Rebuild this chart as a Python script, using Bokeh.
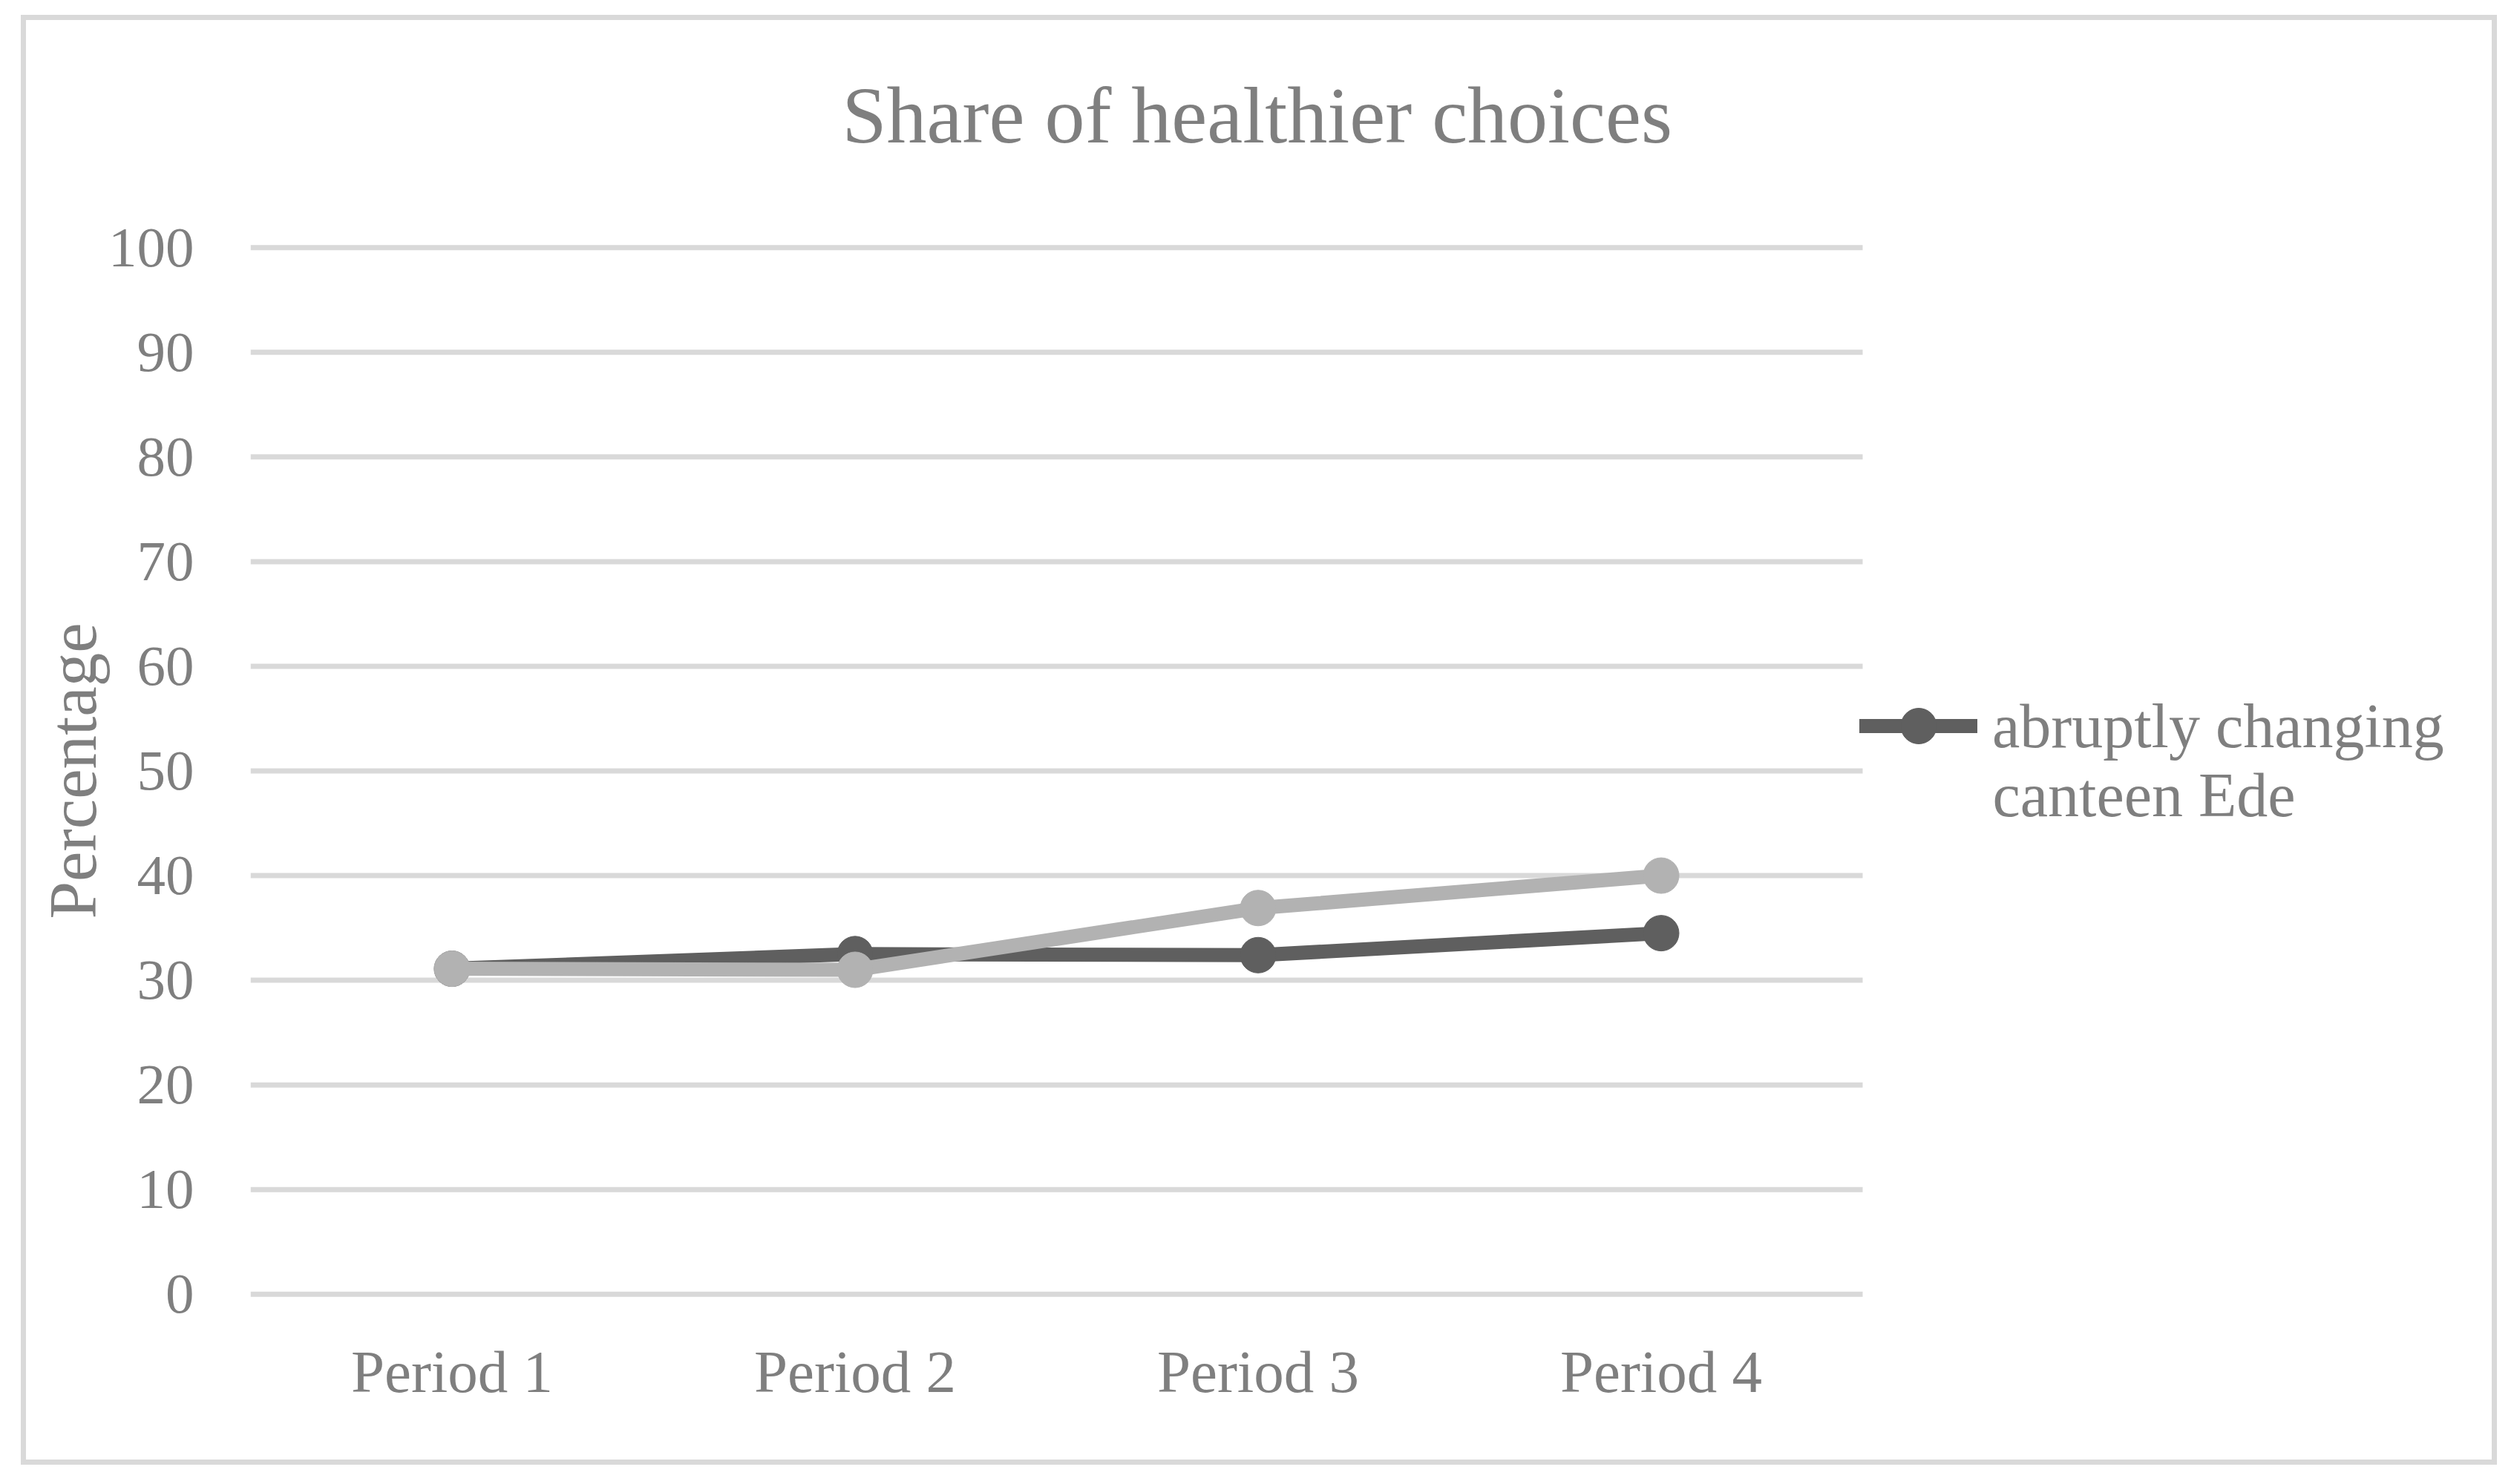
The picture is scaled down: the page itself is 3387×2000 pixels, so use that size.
from bokeh.plotting import figure
from bokeh.models import (Range1d, FixedTicker, Legend, LegendItem, Label, Title)
from bokeh.embed import file_html
from bokeh.resources import INLINE

# ---- data ----
categories = ["Period 1", "Period 2", "Period 3", "Period 4"]
abrupt_ede = [31.1, 32.5, 32.4, 34.5]
second_series = [31.1, 31.0, 36.9, 40.0]
y_ticks = [0, 10, 20, 30, 40, 50, 60, 70, 80, 90, 100]
legend_label_1 = "abruptly changing"
legend_label_2 = "canteen Ede"
title_text = "Share of healthier choices"
y_title = "Percentage"

# category slots: each period occupies one unit, centred at i + 0.5
x_pos = [i + 0.5 for i in range(len(categories))]

# ---- styles ----
FONT = "Liberation Serif"
TXT = "#7f7f7f"
GRID = "#d9d9d9"
DARK = "#5f5f5f"
LIGHT = "#b2b2b2"

FRAME_W = 3010          # frame spans plot area plus legend area
PLOT_W = 2172           # width of the category area
x_end = len(categories) * FRAME_W / PLOT_W

p = figure(x_range=Range1d(0, x_end), y_range=Range1d(-0.3, 100.3),
           width=3336, height=1954, output_backend="svg", toolbar_location=None,
           min_border_left=302, min_border_right=3336 - 302 - FRAME_W,
           min_border_top=302, min_border_bottom=233, title=None)
p.styles = {"border": "7px solid #d9d9d9", "margin-left": "28px", "margin-top": "20px"}
p.background_fill_color = "white"
p.border_fill_color = "white"
p.outline_line_color = None

# grid (horizontal lines only across the category area)
p.xgrid.visible = False
p.ygrid.visible = False
p.segment(x0=0, x1=len(categories), y0=y_ticks, y1=y_ticks,
          line_color=GRID, line_width=7)

# y axis
p.yaxis.ticker = FixedTicker(ticks=y_ticks)
p.yaxis.axis_line_color = None
p.yaxis.major_tick_line_color = None
p.yaxis.minor_tick_line_color = None
p.yaxis.major_tick_out = 0
p.yaxis.major_tick_in = 0
p.yaxis.major_label_standoff = 76
p.yaxis.major_label_text_font = FONT
p.yaxis.major_label_text_font_size = "77px"
p.yaxis.major_label_text_color = TXT
p.yaxis.axis_label = y_title
p.yaxis.axis_label_text_font = FONT
p.yaxis.axis_label_text_font_size = "91px"
p.yaxis.axis_label_text_font_style = "normal"
p.yaxis.axis_label_text_color = TXT
p.yaxis.axis_label_standoff = -6

# x axis
p.xaxis.ticker = FixedTicker(ticks=x_pos)
p.xaxis.major_label_overrides = {x: c for x, c in zip(x_pos, categories)}
p.xaxis.axis_line_color = None
p.xaxis.major_tick_line_color = None
p.xaxis.minor_tick_line_color = None
p.xaxis.major_tick_out = 0
p.xaxis.major_tick_in = 0
p.xaxis.major_label_standoff = 55
p.xaxis.major_label_text_font = FONT
p.xaxis.major_label_text_font_size = "81px"
p.xaxis.major_label_text_color = TXT

# series
l1 = p.line(x_pos, abrupt_ede, line_width=19, line_color=DARK,
            line_cap="round", line_join="round")
s1 = p.scatter(x_pos, abrupt_ede, size=48, fill_color=DARK, line_color=DARK)
l2 = p.line(x_pos, second_series, line_width=19, line_color=LIGHT,
            line_cap="round", line_join="round")
s2 = p.scatter(x_pos, second_series, size=48, fill_color=LIGHT, line_color=LIGHT)

# legend (only the first series entry is visible in the reference, label wraps)
legend = Legend(items=[LegendItem(label=legend_label_1, renderers=[l1, s1])],
                location=(2168, 710), glyph_width=159, glyph_height=120,
                label_standoff=20, padding=0, margin=0, spacing=0,
                border_line_color=None, background_fill_alpha=0,
                label_text_font=FONT, label_text_font_size="84px",
                label_text_color=TXT)
p.add_layout(legend)
p.add_layout(Label(x=2347, y=677, x_units="screen", y_units="screen",
                   text=legend_label_2, text_font=FONT, text_font_size="84px",
                   text_color=TXT, text_baseline="alphabetic", text_align="left"))

# titles: spacer closest to the frame, then the main title
spacer = Title(text=" ", text_font_size="1px", standoff=100)
p.add_layout(spacer, "above")
main_title = Title(text=title_text, align="left", offset=797, vertical_align="top",
                   standoff=20, text_font=FONT, text_font_size="108px",
                   text_font_style="normal", text_color=TXT)
p.add_layout(main_title, "above")

open("out.html", "w").write(file_html(p, INLINE))
